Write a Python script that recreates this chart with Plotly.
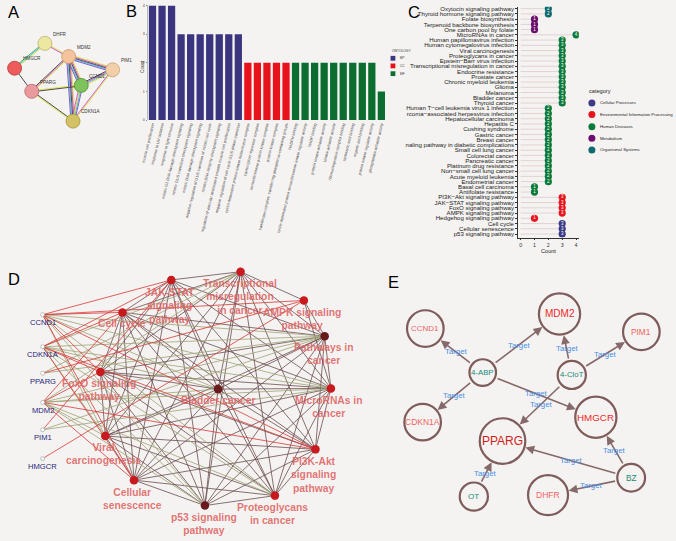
import math
import plotly.graph_objects as go

BG = "#f5f3f1"
W, H = 676, 541
FONT = "Liberation Sans, Arial, sans-serif"
NARROW = "Liberation Sans Narrow, Arial Narrow, Liberation Sans, sans-serif"

# ---------------- Panel A : STRING network ----------------
a_genes = ["DHFR", "MDM2", "PIM1", "CCND1", "HMGCR", "PPARG", "CDKN1A"]
a_x = [38.3, 62.3, 106.7, 75.0, 7.7, 25.0, 66.7]
a_y = [41.7, 55.0, 68.3, 84.0, 66.7, 90.0, 120.0]
a_fill = ["#ece8a2", "#f5c39c", "#f2cfa8", "#80c35c", "#ee5b5b", "#ea9a9c", "#d3c166"]
a_ring = ["#b8b36c", "#c9956f", "#c9a27a", "#4f8f35", "#b83a3a", "#b86a6c", "#a39338"]
a_edges = [(4, 0), (0, 1), (4, 5), (1, 5), (1, 2), (1, 3), (1, 6), (2, 3), (2, 6), (3, 6), (5, 3), (5, 6)]
YEL, MAG, DRK, CYA, PUR, GRN = "#d6e030", "#d048c8", "#3a3a3a", "#40b8e0", "#6a50c8", "#30a840"
a_edge_cols = [
    [GRN, CYA, YEL],
    [YEL, MAG],
    [DRK],
    [YEL, MAG, DRK],
    [YEL, MAG, DRK, CYA, PUR],
    [YEL, MAG, DRK, CYA, PUR],
    [YEL, MAG, DRK, CYA, PUR],
    [YEL, CYA, MAG, DRK],
    [YEL, MAG],
    [PUR, CYA, YEL, MAG],
    [YEL, DRK],
    [DRK, YEL],
]

# ---------------- Panel B : GO bar chart ----------------
b_terms = [
    "muscle cell proliferation",
    "response to UV radiation",
    "response to light stimulus",
    "mitotic G1 DNA damage checkpoint signaling",
    "mitotic G1/S transition checkpoint signaling",
    "mitotic DNA damage checkpoint signaling",
    "negative regulation of G1/S transition of mitotic cell cycle",
    "mitotic DNA integrity checkpoint signaling",
    "regulation of vascular associated smooth muscle cell proliferation",
    "negative regulation of cell cycle G1/S phase transition",
    "cyclin-dependent protein kinase holoenzyme complex",
    "transcription repressor complex",
    "serine/threonine protein kinase complex",
    "protein kinase complex",
    "transferase complex, transferring phosphorus-containing groups",
    "NADPH binding",
    "cyclin-dependent protein serine/threonine kinase regulator activity",
    "NADP binding",
    "protein kinase activator activity",
    "kinase activator activity",
    "ribonucleoprotein complex binding",
    "carboxylic acid binding",
    "organic acid binding",
    "protein kinase regulator activity",
    "phosphatase activator activity",
]
b_counts = [4, 4, 4, 3, 3, 3, 3, 3, 3, 3, 2, 2, 2, 2, 2, 2, 2, 2, 2, 2, 2, 2, 2, 2, 1]
b_ont = ["BP"] * 10 + ["CC"] * 5 + ["MF"] * 10
b_onts = ["BP", "CC", "MF"]
b_colors = {"BP": "#3b3580", "CC": "#e8121c", "MF": "#0b6e30"}

# ---------------- Panel C : KEGG lollipop ----------------
c_names = [
    "Oxytocin signaling pathway", "Thyroid hormone signaling pathway", "Folate biosynthesis",
    "Terpenoid backbone biosynthesis", "One carbon pool by folate", "MicroRNAs in cancer",
    "Human papillomavirus infection", "Human cytomegalovirus infection", "Viral carcinogenesis",
    "Proteoglycans in cancer", "Epstein\u2212Barr virus infection", "Transcriptional misregulation in cancer",
    "Endocrine resistance", "Prostate cancer", "Chronic myeloid leukemia", "Glioma", "Melanoma",
    "Bladder cancer", "Thyroid cancer", "Human T\u2212cell leukemia virus 1 infection",
    "rcoma\u2212associated herpesvirus infection", "Hepatocellular carcinoma", "Hepatitis C",
    "Cushing syndrome", "Gastric cancer", "Breast cancer", "naling pathway in diabetic complications",
    "Small cell lung cancer", "Colorectal cancer", "Pancreatic cancer", "Platinum drug resistance",
    "Non\u2212small cell lung cancer", "Acute myeloid leukemia", "Endometrial cancer",
    "Basal cell carcinoma", "Antifolate resistance", "PI3K\u2212Akt signaling pathway",
    "JAK\u2212STAT signaling pathway", "FoxO signaling pathway", "AMPK signaling pathway",
    "Hedgehog signaling pathway", "Cell cycle", "Cellular senescence", "p53 signaling pathway",
]
c_counts = [2, 2, 1, 1, 1, 4] + [3] * 13 + [2] * 15 + [1, 1] + [3, 3, 3, 3, 1] + [3, 3, 3]
c_cats = (["Organismal Systems"] * 2 + ["Metabolism"] * 3 + ["Human Diseases"] * 31
          + ["Environmental Information Processing"] * 5 + ["Cellular Processes"] * 3)
c_cat_order = ["Cellular Processes", "Environmental Information Processing", "Human Diseases",
               "Metabolism", "Organismal Systems"]
c_colors = {"Cellular Processes": "#3c3a86", "Environmental Information Processing": "#e8141c",
            "Human Diseases": "#0b7a3a", "Metabolism": "#6b0f6e", "Organismal Systems": "#0f6a70"}

# ---------------- Panel D : gene-pathway network ----------------
d_genes = ["CCND1", "CDKN1A", "PPARG", "MDM2", "PIM1", "HMGCR"]
d_gx = [36, 36, 36, 36, 36, 36]
d_gy = [315, 347.3, 374, 403.3, 431, 460]
d_paths = ["JAK-STAT<br>signaling<br>pathway", "Transcriptional<br>misregulation<br>in cancer",
           "AMPK signaling<br>pathway", "Pathways in<br>cancer", "MicroRNAs in<br>cancer",
           "PI3K-Akt<br>signaling<br>pathway", "Proteoglycans<br>in cancer", "p53 signaling<br>pathway",
           "Cellular<br>senescence", "Viral<br>carcinogenesis", "FoxO signaling<br>pathway",
           "Cell cycle", "Bladder cancer"]
d_px = [166, 236, 300, 321, 327.3, 311.7, 270.7, 200, 128.3, 99.3, 94.3, 116.7, 213.3]
d_py = [280, 271.7, 300.7, 336.7, 389.3, 450.7, 497.3, 507.3, 481.7, 437.3, 372.7, 312.7, 390]
d_pdark = [False, False, False, True, False, False, False, True, False, False, False, False, True]
d_lx = [165, 235, 298, 320, 325, 310, 268.7, 199, 126.7, 97, 93, 116.7, 213.3]
d_ly = [306, 296.7, 319.5, 355, 408, 476.7, 515.8, 526.3, 500.3, 455.5, 391, 324.3, 401.7]
# gene -> pathway memberships: (gene, pathway, edge type)
d_gene_edges = [
    (0, 0, "r"), (0, 2, "r"), (0, 11, "r"), (0, 10, "r"), (0, 9, "o"), (0, 8, "r"), (0, 7, "o"),
    (0, 6, "o"), (0, 5, "r"), (0, 4, "o"), (0, 3, "o"), (0, 12, "o"),
    (1, 0, "r"), (1, 1, "o"), (1, 11, "r"), (1, 10, "r"), (1, 9, "o"), (1, 8, "r"), (1, 7, "o"),
    (1, 6, "o"), (1, 5, "r"), (1, 4, "o"), (1, 3, "o"), (1, 12, "o"),
    (2, 1, "o"), (2, 2, "r"), (2, 3, "o"),
    (3, 1, "o"), (3, 11, "r"), (3, 10, "r"), (3, 9, "o"), (3, 8, "r"), (3, 7, "o"), (3, 6, "o"),
    (3, 5, "r"), (3, 4, "o"), (3, 3, "o"), (3, 12, "o"),
    (4, 0, "r"), (4, 4, "o"), (4, 3, "o"),
    (5, 2, "r"),
]
d_ampk_links = [3, 1, 4]

# ---------------- Panel E : compound-target network ----------------
e_nodes = ["CCND1", "MDM2", "PIM1", "4-ABP", "4-CloT", "CDKN1A", "HMGCR", "PPARG", "BZ", "OT", "DHFR"]
e_x = [422.7, 558.3, 641, 480.7, 570.7, 420, 595, 500.7, 630.7, 471.7, 546.7]
e_y = [329, 314.3, 332.3, 373.3, 375.7, 423.3, 418.3, 442.3, 479.3, 498.3, 496.7]
e_r = [18.3, 20.6, 18.3, 13.3, 14.1, 18.3, 20.6, 22.8, 13.9, 14.1, 20]
e_fsize = [8, 10, 8.3, 7.8, 7.8, 8.5, 9.8, 12, 8.3, 8, 8.5]
e_fcol = ["#f06464", "#ec2a2a", "#f06464", "#1b8a7a", "#1b8a7a", "#f06464", "#ec2a2a", "#d21c1c",
          "#1b8a7a", "#1b8a7a", "#f06464"]
e_edges = [(3, 0), (3, 1), (3, 5), (3, 6), (4, 1), (4, 2), (4, 7), (8, 6), (8, 7), (8, 10), (9, 7)]
e_lab_x = [454.3, 517.7, 452.3, 535, 566, 604.3, 540, 614.3, 570.7, 591, 484]
e_lab_y = [352.3, 346, 396.7, 394.3, 348.7, 355, 405, 451.7, 462.3, 487.3, 475]

# ================= figure =================
fig = go.Figure()

def px_trace(**kw):
    kw.setdefault("hoverinfo", "skip")
    fig.add_trace(go.Scatter(xaxis="x3", yaxis="y3", showlegend=False, **kw))

# ---- Panel B bars
b_idx = list(range(len(b_terms)))
fig.add_trace(go.Bar(x=b_idx, y=b_counts, marker=dict(color=[b_colors[o] for o in b_ont], line_width=0),
                     width=0.76, xaxis="x", yaxis="y", showlegend=False, hoverinfo="skip"))

# ---- Panel C lollipops
c_idx = list(range(len(c_names)))
sx, sy = [], []
for i, v in zip(c_idx, c_counts):
    sx += [0, v, None]
    sy += [i, i, None]
fig.add_trace(go.Scatter(x=sx, y=sy, mode="lines", line=dict(color="#dccaca", width=0.8),
                         xaxis="x2", yaxis="y2", showlegend=False, hoverinfo="skip"))
fig.add_trace(go.Scatter(x=c_counts, y=c_idx, mode="markers+text", text=[str(v) for v in c_counts],
                         textposition="middle center", textfont=dict(color="white", size=4.5, family=FONT),
                         marker=dict(size=7.2, color=[c_colors[c] for c in c_cats], line_width=0),
                         xaxis="x2", yaxis="y2", showlegend=False, hoverinfo="skip"))

# ---- Panel A edges
groups = {}
for (i, j), cols in zip(a_edges, a_edge_cols):
    x1, y1, x2, y2 = a_x[i], a_y[i], a_x[j], a_y[j]
    L = math.hypot(x2 - x1, y2 - y1)
    nx, ny = -(y2 - y1) / L, (x2 - x1) / L
    n = len(cols)
    for k, c in enumerate(cols):
        off = (k - (n - 1) / 2) * 1.05
        gx, gy = groups.setdefault(c, ([], []))
        gx += [x1 + nx * off, x2 + nx * off, None]
        gy += [y1 + ny * off, y2 + ny * off, None]
for c, (gx, gy) in groups.items():
    px_trace(x=gx, y=gy, mode="lines", line=dict(color=c, width=0.9))
px_trace(x=a_x, y=a_y, mode="markers",
         marker=dict(size=14, color=a_fill, line=dict(color=a_ring, width=0.8)))

# ---- Panel D edges
brown_x, brown_y = [], []
n_p = len(d_px)
for i in range(n_p):
    for j in range(i + 1, n_p):
        if 2 in (i, j):
            other = j if i == 2 else i
            if other not in d_ampk_links:
                continue
        brown_x += [d_px[i], d_px[j], None]
        brown_y += [d_py[i], d_py[j], None]
px_trace(x=brown_x, y=brown_y, mode="lines", line=dict(color="rgba(100,70,72,0.85)", width=0.9))
ol_x, ol_y, rd_x, rd_y = [], [], [], []
for g, p, t in d_gene_edges:
    if t == "o":
        ol_x += [d_gx[g], d_px[p], None]
        ol_y += [d_gy[g], d_py[p], None]
    else:
        rd_x += [d_gx[g], d_px[p], None]
        rd_y += [d_gy[g], d_py[p], None]
px_trace(x=ol_x, y=ol_y, mode="lines", line=dict(color="rgba(160,164,120,0.9)", width=0.9))
px_trace(x=rd_x, y=rd_y, mode="lines", line=dict(color="rgba(214,60,60,0.9)", width=0.9))
px_trace(x=d_px, y=d_py, mode="markers",
         marker=dict(size=8.5, color=["#6a1a1c" if d else "#c8191f" for d in d_pdark], line_width=0))
px_trace(x=d_gx, y=d_gy, mode="markers",
         marker=dict(size=4, color="white", line=dict(color="#9a9a9a", width=0.6)))

# ---- Panel E nodes
px_trace(x=e_x, y=e_y, mode="markers",
         marker=dict(size=[2 * r for r in e_r], color=BG, opacity=1,
                     line=dict(color="#7f5c5c", width=2.2)))

# ---- Legends (B, C)
b_leg_y = [56.7, 64.4, 72.2]
px_trace(x=[390] * 3, y=b_leg_y, mode="markers",
         marker=dict(symbol="square", size=4.8, color=[b_colors[o] for o in b_onts], line_width=0))
c_leg_y = [101.7, 113.4, 125.6, 137.3, 149.0]
px_trace(x=[591] * 5, y=c_leg_y, mode="markers",
         marker=dict(size=7, color=[c_colors[c] for c in c_cat_order], line_width=0))

ann = []
def A(x, y, text, size, color="#222", xanchor="center", yanchor="middle", **kw):
    ann.append(dict(x=x, y=y, xref="x3", yref="y3", text=text, showarrow=False, xanchor=xanchor,
                    yanchor=yanchor, font=dict(size=size, color=color, family=kw.pop("family", FONT)), **kw))

# panel letters
for t, x, y in [("A", 7, 10), ("B", 125.5, 9.5), ("C", 411, 10), ("D", 7.5, 279.5), ("E", 390.5, 282)]:
    A(x, y, t, 16.5, "#000")

# A labels
for g, x, y in zip(a_genes, a_x, a_y):
    A(x + 6.2, y - 9.3, g, 4.6, "#333", xanchor="left")

# B axis title and legend
A(136.8, 65, "Count", 4.6, "#333", textangle=-90)
A(387.4, 49.2, "ONTOLOGY", 3.3, "#333", xanchor="left")
for o, y in zip(b_onts, b_leg_y):
    A(394.6, y, o, 3.2, "#333", xanchor="left")

# C axis title and legend
A(547, 250.8, "Count", 5.6, "#222")
A(586.3, 90, "category", 5.6, "#222", xanchor="left")
for c, y in zip(c_cat_order, c_leg_y):
    A(597.6, y, c, 4.3, "#222", xanchor="left")

# D labels
for lab, x, y in zip(d_paths, d_lx, d_ly):
    ann.append(dict(x=x, y=y, xref="x3", yref="y3", text="<b>" + lab + "</b>", showarrow=False,
                    xanchor="center", yanchor="middle",
                    font=dict(size=10.3, color="rgba(222,98,98,0.88)", family=FONT)))
for g, x, y in zip(d_genes, d_gx, d_gy):
    A(x, y + 8.2, g, 7.6, "#25257a")

# E arrows
for (s, t) in e_edges:
    ann.append(dict(x=e_x[t], y=e_y[t], ax=e_x[s], ay=e_y[s], xref="x3", yref="y3", axref="x3", ayref="y3",
                    text="", showarrow=True, arrowhead=2, arrowsize=1.1, arrowwidth=1.6,
                    arrowcolor="#86696a", standoff=e_r[t] + 1, startstandoff=e_r[s] + 1))
for x, y in zip(e_lab_x, e_lab_y):
    A(x, y, "Target", 7.8, "#4a8fe4")
for n, x, y, fs, fc in zip(e_nodes, e_x, e_y, e_fsize, e_fcol):
    A(x, y, n, fs, fc)

fig.update_layout(
    width=W, height=H, margin=dict(l=0, r=0, t=0, b=0), autosize=False,
    paper_bgcolor=BG, plot_bgcolor="rgba(0,0,0,0)", font=dict(family=FONT),
    showlegend=False, annotations=ann, bargap=0.24,
    xaxis=dict(domain=[142.2 / W, 383.1 / W], range=[-0.5, len(b_terms) - 0.5], anchor="y",
               tickmode="array", tickvals=b_idx, ticktext=b_terms, tickangle=-76,
               tickfont=dict(size=3.9, color="#444"), ticks="", showgrid=False, zeroline=False,
               showline=False, fixedrange=True),
    yaxis=dict(domain=[1 - 119 / H, 1 - 3.5 / H], range=[0, 4], anchor="x", tickmode="array",
               tickvals=[0, 1, 2, 3, 4], tickfont=dict(size=3.6, color="#444"), ticks="outside",
               ticklen=1.5, tickwidth=0.4, tickcolor="#888", showgrid=False, zeroline=False,
               showline=True, linecolor="#bbb", linewidth=0.4, fixedrange=True),
    xaxis2=dict(domain=[516.2 / W, 577.8 / W], range=[-0.2, 4.2], anchor="y2", tickmode="array",
                tickvals=[0, 1, 2, 3, 4], tickfont=dict(size=5.3, color="#333"), ticks="outside",
                ticklen=2, tickwidth=0.6, tickcolor="#333", showgrid=False, zeroline=False,
                showline=True, linecolor="#333", linewidth=0.7, fixedrange=True),
    yaxis2=dict(domain=[1 - 237.3 / H, 1 - 4.7 / H], range=[len(c_names) - 0.33, -0.38], anchor="x2",
                tickmode="array", tickvals=c_idx, ticktext=c_names,
                tickfont=dict(size=6.1, color="#222", family=NARROW), ticks="outside", ticklen=1.8,
                tickwidth=0.5, tickcolor="#333", showgrid=False, zeroline=False, showline=True,
                linecolor="#333", linewidth=0.7, fixedrange=True),
    xaxis3=dict(domain=[0, 1], range=[0, W], anchor="y3", visible=False, fixedrange=True),
    yaxis3=dict(domain=[0, 1], range=[H, 0], anchor="x3", visible=False, fixedrange=True),
)

fig.write_html("out.html", config={"displayModeBar": False},
               post_script="document.body.style.margin='0';document.body.style.overflow='hidden';")
